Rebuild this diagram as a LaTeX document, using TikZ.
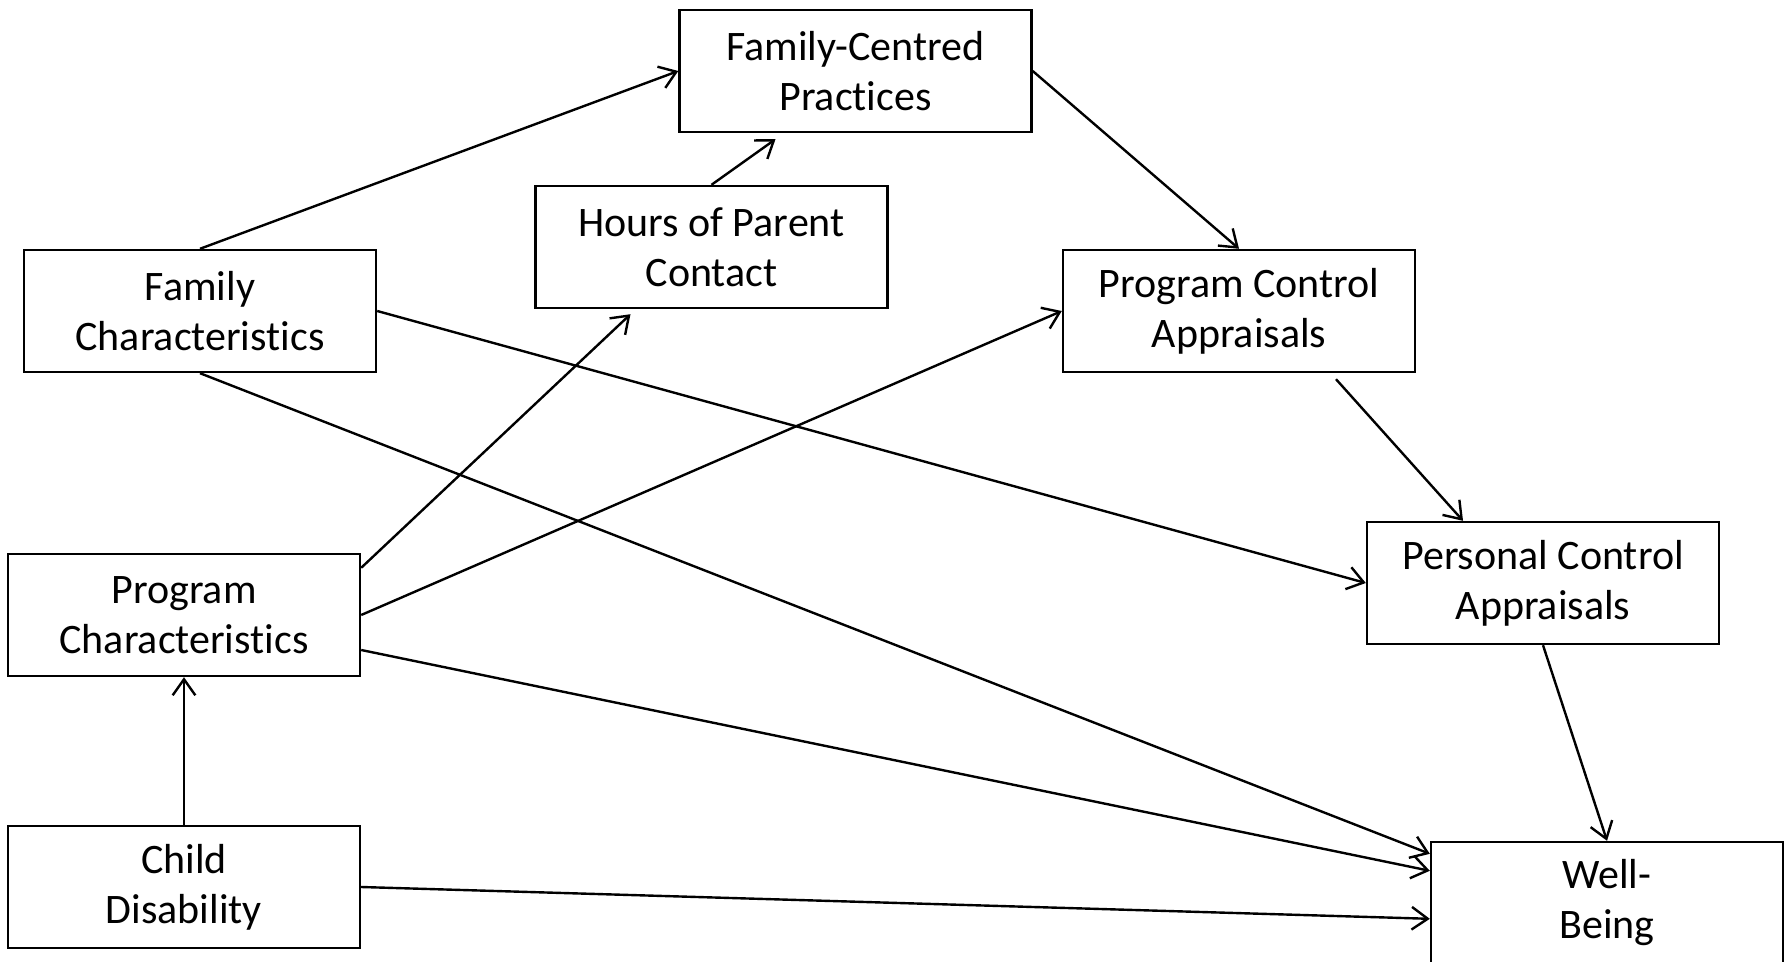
\documentclass[tikz,border=0pt]{standalone}
\usepackage{fontspec}
\setmainfont{Carlito}[Ligatures=NoCommon]
\usetikzlibrary{arrows.meta,calc}

\tikzset{every picture/.style={line width=1.8pt}}
\tikzset{
  varbox/.style={draw, align=center, inner sep=0pt, minimum width=264pt, minimum height=91.5pt,
    font=\fontsize{31.5pt}{37.5pt}\selectfont},
  link/.style={-{Straight Barb[length=12pt,width=17pt,line width=1.8pt]}}
}

\begin{document}
\begin{tikzpicture}[x=0.75pt,y=0.75pt,yscale=-1,xscale=1]
\useasboundingbox (0,0) rectangle (1791,962);

% Boxes
\node [varbox] (fcp) at (855.5,71) {Family-Centred\\Practices};
\node [varbox] (hours) at (711.5,247) {Hours of Parent\\Contact};
\node [varbox] (famchar) at (200,311) {Family\\Characteristics};
\node [varbox] (progctrl) at (1239,311) {Program Control\\Appraisals};
\node [varbox] (persctrl) at (1543,583) {Personal Control\\Appraisals};
\node [varbox] (progchar) at (184,615) {Program\\Characteristics};
\node [varbox] (childdis) at (184,887) {Child\\Disability};
\node [varbox] (wellbeing) at (1607,903) {Well-\\Being};

% Arrows
\draw [link] (famchar.north) -- (fcp.west);
\draw [link] (hours.north) -- ($(fcp.south)+(-80,6)$);
\draw [link] (fcp.east) -- (progctrl.north);
\draw [link] (famchar.east) -- (persctrl.west);
\draw [link] (famchar.south) -- ($(wellbeing.north west)+(0,13)$);
\draw [link] ($(progchar.north east)+(0,15)$) -- ($(hours.south)+(-81,5)$);
\draw [link] (progchar.east) -- (progctrl.west);
\draw [link] ($(progchar.east)+(0,35)$) -- ($(wellbeing.north west)+(0,30)$);
\draw [link] (childdis.north) -- (progchar.south);
\draw [link] (childdis.east) -- ($(wellbeing.north west)+(0,78)$);
\draw [link] ($(progctrl.south)+(97,6)$) -- ($(persctrl.north)+(-80,0)$);
\draw [link] (persctrl.south) -- (wellbeing.north);

\end{tikzpicture}
\end{document}
